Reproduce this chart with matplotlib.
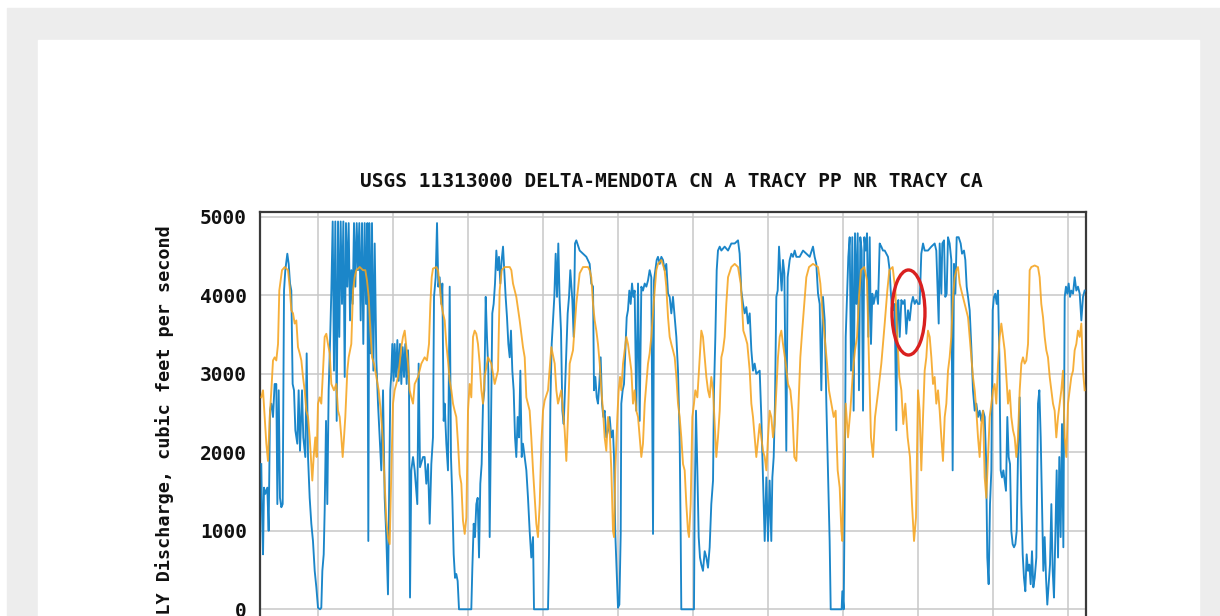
# Purpose: redraw the USGS 11313000 Delta-Mendota Canal daily discharge graph.
import matplotlib
matplotlib.use("Agg")
import matplotlib.pyplot as plt
from matplotlib.patches import Rectangle, Ellipse

# 1. Data: (decimal year, cubic feet per second)
blue_points = [
    (2011.244, 1850), (2011.253, 1255), (2011.267, 700), (2011.280, 1550), (2011.298, 1470),
    (2011.324, 1550), (2011.342, 1000), (2011.360, 2530), (2011.378, 2620), (2011.400, 2450),
    (2011.422, 2870), (2011.444, 2870), (2011.458, 1340), (2011.476, 2790), (2011.493, 1420),
    (2011.511, 1300), (2011.529, 1340), (2011.547, 4060), (2011.564, 4320), (2011.591, 4530),
    (2011.609, 4400), (2011.627, 4150), (2011.644, 4060), (2011.662, 2870), (2011.680, 2790),
    (2011.698, 2280), (2011.724, 2110), (2011.742, 2790), (2011.760, 2020), (2011.787, 2790),
    (2011.804, 2190), (2011.831, 1940), (2011.849, 3260), (2011.867, 1940), (2011.889, 1420),
    (2011.911, 1090), (2011.933, 870), (2011.956, 490), (2011.978, 280), (2012.000, 20),
    (2012.027, 0), (2012.044, 20), (2012.058, 490), (2012.076, 700), (2012.089, 1260),
    (2012.107, 2400), (2012.124, 1340), (2012.142, 2790), (2012.160, 3380), (2012.178, 4060),
    (2012.196, 4940), (2012.213, 3040), (2012.231, 4940), (2012.249, 2400), (2012.267, 4940),
    (2012.284, 3470), (2012.302, 4940), (2012.320, 3890), (2012.338, 4940), (2012.356, 2960),
    (2012.373, 4920), (2012.391, 4110), (2012.409, 4920), (2012.427, 3680), (2012.444, 4320),
    (2012.462, 3890), (2012.480, 4920), (2012.498, 4110), (2012.516, 4920), (2012.533, 4320),
    (2012.551, 4920), (2012.569, 3680), (2012.587, 4920), (2012.604, 3380), (2012.622, 4920),
    (2012.640, 3890), (2012.658, 4920), (2012.671, 870), (2012.684, 4920), (2012.702, 3260),
    (2012.720, 4920), (2012.738, 3040), (2012.756, 4660), (2012.778, 3170), (2012.800, 2620),
    (2012.822, 2190), (2012.844, 1770), (2012.867, 2790), (2012.889, 1420), (2012.911, 920),
    (2012.933, 190), (2012.947, 1340), (2012.964, 2790), (2012.978, 3000), (2012.991, 3380),
    (2013.009, 2910), (2013.022, 3380), (2013.040, 2960), (2013.058, 3430), (2013.076, 2910),
    (2013.093, 3380), (2013.111, 2870), (2013.129, 3340), (2013.147, 2960), (2013.164, 3380),
    (2013.182, 2870), (2013.200, 3300), (2013.213, 2910), (2013.227, 150), (2013.244, 1770),
    (2013.267, 1940), (2013.289, 1770), (2013.324, 1340), (2013.342, 3130), (2013.360, 1810),
    (2013.400, 1940), (2013.422, 1940), (2013.444, 1600), (2013.467, 1850), (2013.489, 1090),
    (2013.511, 1850), (2013.533, 2190), (2013.547, 3980), (2013.569, 4230), (2013.587, 4920),
    (2013.604, 4110), (2013.622, 4230), (2013.644, 3890), (2013.658, 4150), (2013.676, 2400),
    (2013.689, 2620), (2013.711, 2110), (2013.733, 1770), (2013.756, 4110), (2013.773, 1940),
    (2013.791, 1420), (2013.809, 700), (2013.827, 400), (2013.844, 450), (2013.862, 360),
    (2013.880, 0), (2014.044, 0), (2014.058, 530), (2014.076, 1090), (2014.093, 920),
    (2014.111, 1340), (2014.129, 1420), (2014.147, 660), (2014.164, 1600), (2014.182, 1850),
    (2014.200, 2620), (2014.218, 2790), (2014.236, 3980), (2014.253, 3470), (2014.271, 3040),
    (2014.289, 920), (2014.307, 2450), (2014.324, 3770), (2014.342, 3890), (2014.360, 4150),
    (2014.378, 4570), (2014.396, 4320), (2014.413, 4490), (2014.431, 4150), (2014.449, 4450),
    (2014.467, 4620), (2014.484, 4320), (2014.502, 3980), (2014.520, 3720), (2014.538, 3380),
    (2014.556, 3210), (2014.573, 3550), (2014.591, 3040), (2014.609, 2790), (2014.627, 2190),
    (2014.644, 1940), (2014.662, 2450), (2014.680, 2190), (2014.698, 3040), (2014.716, 1940),
    (2014.733, 2110), (2014.756, 1940), (2014.778, 1770), (2014.800, 1420), (2014.822, 1000),
    (2014.844, 660), (2014.867, 920), (2014.880, 0), (2015.067, 0), (2015.080, 700),
    (2015.098, 2620), (2015.116, 3380), (2015.133, 3680), (2015.151, 3980), (2015.169, 4530),
    (2015.187, 3980), (2015.204, 4660), (2015.222, 3940), (2015.240, 3550), (2015.258, 2530),
    (2015.276, 2360), (2015.293, 2790), (2015.311, 3300), (2015.329, 3770), (2015.347, 3980),
    (2015.364, 4320), (2015.391, 3940), (2015.409, 3470), (2015.427, 4660), (2015.444, 4700),
    (2015.489, 4570), (2015.533, 4530), (2015.578, 4490), (2015.622, 4400), (2015.644, 4150),
    (2015.667, 4110), (2015.680, 2790), (2015.698, 2960), (2015.716, 2700), (2015.733, 2620),
    (2015.751, 2870), (2015.769, 3210), (2015.787, 2620), (2015.804, 2450), (2015.822, 2530),
    (2015.844, 2190), (2015.867, 2280), (2015.889, 2450), (2015.911, 2190), (2015.933, 2280),
    (2015.947, 1940), (2015.964, 960), (2015.982, 490), (2016.000, 20), (2016.018, 60),
    (2016.036, 960), (2016.044, 2620), (2016.062, 2790), (2016.080, 2870), (2016.098, 3300),
    (2016.116, 3720), (2016.133, 3810), (2016.151, 4060), (2016.169, 3890), (2016.187, 4150),
    (2016.204, 3980), (2016.222, 4060), (2016.244, 2530), (2016.267, 4150), (2016.289, 2400),
    (2016.311, 4110), (2016.333, 4060), (2016.356, 4150), (2016.378, 4110), (2016.400, 4190),
    (2016.422, 4320), (2016.444, 4230), (2016.467, 960), (2016.480, 4190), (2016.498, 4320),
    (2016.516, 4450), (2016.533, 4490), (2016.556, 4400), (2016.578, 4490), (2016.600, 4450),
    (2016.622, 4320), (2016.644, 4400), (2016.667, 4020), (2016.689, 3980), (2016.711, 3770),
    (2016.733, 3980), (2016.756, 3720), (2016.778, 3470), (2016.800, 3040), (2016.822, 2190),
    (2016.836, 920), (2016.844, 0), (2017.013, 0), (2017.022, 1340), (2017.040, 2530),
    (2017.058, 1770), (2017.076, 920), (2017.093, 660), (2017.111, 570), (2017.133, 490),
    (2017.156, 740), (2017.178, 660), (2017.200, 530), (2017.222, 790), (2017.244, 1340),
    (2017.267, 1640), (2017.280, 2790), (2017.298, 3470), (2017.316, 4320), (2017.333, 4570),
    (2017.356, 4620), (2017.378, 4570), (2017.422, 4620), (2017.467, 4570), (2017.511, 4660),
    (2017.556, 4660), (2017.600, 4700), (2017.622, 4530), (2017.644, 4060), (2017.667, 3890),
    (2017.689, 3770), (2017.711, 3850), (2017.733, 3640), (2017.756, 3770), (2017.778, 3300),
    (2017.800, 3040), (2017.822, 3130), (2017.844, 3000), (2017.889, 3040), (2017.911, 2450),
    (2017.933, 1680), (2017.956, 870), (2017.978, 1680), (2018.000, 870), (2018.022, 1640),
    (2018.044, 870), (2018.058, 1680), (2018.076, 1940), (2018.093, 2620), (2018.111, 3980),
    (2018.129, 4060), (2018.147, 4620), (2018.164, 4320), (2018.182, 4060), (2018.200, 4450),
    (2018.218, 4280), (2018.244, 2020), (2018.262, 4230), (2018.289, 4450), (2018.311, 4530),
    (2018.333, 4490), (2018.356, 4570), (2018.378, 4490), (2018.422, 4490), (2018.467, 4570),
    (2018.511, 4530), (2018.556, 4490), (2018.600, 4620), (2018.622, 4490), (2018.644, 4400),
    (2018.667, 4020), (2018.689, 3890), (2018.711, 2790), (2018.733, 3980), (2018.756, 3680),
    (2018.778, 2620), (2018.800, 1770), (2018.822, 870), (2018.836, 0), (2018.982, 0),
    (2018.991, 230), (2019.009, 0), (2019.022, 1340), (2019.036, 3470), (2019.053, 3980),
    (2019.071, 4490), (2019.089, 4740), (2019.107, 3040), (2019.124, 4740), (2019.142, 2530),
    (2019.160, 4790), (2019.178, 3890), (2019.196, 4790), (2019.213, 2790), (2019.231, 4740),
    (2019.249, 4570), (2019.267, 2530), (2019.284, 4740), (2019.302, 4570), (2019.320, 4790),
    (2019.338, 3470), (2019.356, 4740), (2019.373, 3380), (2019.391, 4020), (2019.409, 3890),
    (2019.427, 3980), (2019.444, 4060), (2019.467, 3890), (2019.489, 4660), (2019.511, 4620),
    (2019.533, 4570), (2019.556, 4570), (2019.578, 4530), (2019.600, 4490), (2019.622, 4320),
    (2019.636, 4060), (2019.649, 3890), (2019.667, 3810), (2019.689, 3890), (2019.711, 2280),
    (2019.724, 3890), (2019.738, 3940), (2019.756, 3470), (2019.778, 3940), (2019.800, 3890),
    (2019.822, 3940), (2019.844, 3510), (2019.867, 3810), (2019.889, 3680), (2019.911, 3890),
    (2019.933, 3980), (2019.956, 3890), (2019.978, 3940), (2020.000, 3890), (2020.022, 3890),
    (2020.044, 4530), (2020.067, 4660), (2020.089, 4570), (2020.133, 4570), (2020.178, 4620),
    (2020.222, 4660), (2020.244, 4570), (2020.267, 3890), (2020.276, 3640), (2020.289, 4660),
    (2020.311, 4020), (2020.324, 4660), (2020.347, 4700), (2020.364, 3980), (2020.382, 4020),
    (2020.400, 4740), (2020.422, 4660), (2020.444, 4450), (2020.462, 1770), (2020.480, 4400),
    (2020.498, 4020), (2020.516, 4740), (2020.542, 4740), (2020.569, 4660), (2020.587, 4530),
    (2020.613, 4570), (2020.631, 4450), (2020.649, 4110), (2020.667, 3980), (2020.689, 3810),
    (2020.711, 3340), (2020.733, 2790), (2020.756, 2530), (2020.778, 2620), (2020.800, 2450),
    (2020.822, 2530), (2020.844, 2400), (2020.867, 2530), (2020.889, 2450), (2020.907, 1940),
    (2020.924, 660), (2020.942, 320), (2020.960, 1340), (2020.978, 1770), (2020.996, 3810),
    (2021.013, 3980), (2021.031, 4020), (2021.049, 3890), (2021.067, 4060), (2021.084, 3260),
    (2021.102, 1770), (2021.120, 1680), (2021.138, 1770), (2021.156, 1640), (2021.173, 1510),
    (2021.191, 2450), (2021.209, 1940), (2021.227, 1850), (2021.244, 1000), (2021.262, 830),
    (2021.280, 790), (2021.298, 830), (2021.316, 1000), (2021.333, 1940), (2021.356, 2700),
    (2021.378, 1340), (2021.396, 700), (2021.413, 400), (2021.431, 230), (2021.449, 700),
    (2021.467, 490), (2021.484, 570), (2021.502, 320), (2021.520, 740), (2021.538, 280),
    (2021.556, 400), (2021.578, 660), (2021.600, 2620), (2021.618, 2790), (2021.636, 2190),
    (2021.653, 1340), (2021.671, 490), (2021.689, 920), (2021.707, 400), (2021.724, 60),
    (2021.742, 320), (2021.760, 570), (2021.778, 1340), (2021.796, 490), (2021.813, 150),
    (2021.831, 920), (2021.849, 1770), (2021.867, 660), (2021.884, 1940), (2021.902, 920),
    (2021.920, 2360), (2021.938, 790), (2021.956, 3980), (2021.973, 4110), (2021.991, 4020),
    (2022.009, 4150), (2022.027, 3980), (2022.044, 4060), (2022.067, 4020), (2022.089, 4230),
    (2022.111, 4060), (2022.133, 4110), (2022.156, 4020), (2022.178, 3680), (2022.200, 3980),
    (2022.222, 4060),
]

orange_points = [
    (2011.244, 2700), (2011.267, 2790), (2011.289, 2450), (2011.311, 2110), (2011.333, 1890),
    (2011.356, 2450), (2011.378, 2790), (2011.400, 3170), (2011.422, 3210), (2011.444, 3170),
    (2011.467, 3380), (2011.484, 4060), (2011.502, 4190), (2011.520, 4320), (2011.556, 4360),
    (2011.600, 4320), (2011.622, 4110), (2011.644, 3810), (2011.667, 3770), (2011.689, 3640),
    (2011.711, 3680), (2011.733, 3340), (2011.756, 3260), (2011.778, 3170), (2011.800, 2960),
    (2011.822, 2790), (2011.844, 2530), (2011.867, 2450), (2011.889, 2190), (2011.911, 1850),
    (2011.924, 1640), (2011.942, 1940), (2011.964, 2190), (2011.982, 1940), (2012.000, 2620),
    (2012.022, 2700), (2012.044, 2620), (2012.067, 3040), (2012.089, 3470), (2012.111, 3510),
    (2012.133, 3380), (2012.156, 3260), (2012.178, 2870), (2012.213, 2790), (2012.244, 2870),
    (2012.267, 2530), (2012.289, 2450), (2012.311, 2190), (2012.329, 1940), (2012.347, 2190),
    (2012.364, 2450), (2012.391, 3040), (2012.409, 3210), (2012.427, 3300), (2012.444, 3380),
    (2012.467, 4060), (2012.489, 4230), (2012.511, 4320), (2012.556, 4360), (2012.600, 4320),
    (2012.631, 4320), (2012.653, 4190), (2012.676, 3980), (2012.698, 3550), (2012.720, 3210),
    (2012.747, 3130), (2012.778, 2960), (2012.809, 2790), (2012.836, 2530), (2012.862, 2190),
    (2012.889, 1600), (2012.911, 1130), (2012.933, 920), (2012.956, 830), (2012.978, 1770),
    (2013.000, 2620), (2013.022, 2790), (2013.044, 2870), (2013.067, 2960), (2013.089, 3130),
    (2013.111, 3340), (2013.133, 3470), (2013.156, 3550), (2013.178, 3340), (2013.200, 3130),
    (2013.222, 2790), (2013.244, 2700), (2013.267, 2620), (2013.289, 2870), (2013.333, 2960),
    (2013.378, 3130), (2013.400, 3170), (2013.422, 3210), (2013.453, 3170), (2013.480, 3380),
    (2013.498, 3890), (2013.516, 4230), (2013.533, 4340), (2013.578, 4360), (2013.600, 4320),
    (2013.622, 4150), (2013.644, 3890), (2013.667, 3770), (2013.689, 3680), (2013.711, 3380),
    (2013.733, 3170), (2013.756, 2910), (2013.778, 2790), (2013.800, 2620), (2013.822, 2530),
    (2013.844, 2450), (2013.867, 2110), (2013.889, 1720), (2013.911, 1600), (2013.933, 1130),
    (2013.956, 960), (2013.978, 1170), (2014.000, 2530), (2014.022, 2870), (2014.044, 2700),
    (2014.067, 3470), (2014.089, 3550), (2014.111, 3510), (2014.133, 3380), (2014.156, 3130),
    (2014.178, 2790), (2014.200, 2620), (2014.222, 2960), (2014.267, 3210), (2014.311, 3130),
    (2014.356, 2870), (2014.400, 3040), (2014.422, 4060), (2014.449, 4320), (2014.489, 4360),
    (2014.556, 4360), (2014.578, 4320), (2014.600, 4150), (2014.644, 3980), (2014.689, 3680),
    (2014.733, 3340), (2014.756, 3210), (2014.778, 2700), (2014.822, 2530), (2014.844, 2190),
    (2014.867, 1770), (2014.889, 1420), (2014.911, 1090), (2014.933, 920), (2014.956, 1340),
    (2014.978, 2110), (2015.000, 2530), (2015.022, 2660), (2015.067, 2790), (2015.111, 3340),
    (2015.156, 3130), (2015.178, 2790), (2015.200, 2620), (2015.244, 2790), (2015.267, 2530),
    (2015.289, 2280), (2015.311, 1890), (2015.333, 2450), (2015.356, 3130), (2015.400, 3300),
    (2015.444, 3890), (2015.489, 4280), (2015.533, 4360), (2015.600, 4360), (2015.622, 4320),
    (2015.644, 4230), (2015.667, 3890), (2015.689, 3680), (2015.711, 3550), (2015.733, 3380),
    (2015.756, 3130), (2015.778, 2790), (2015.800, 2530), (2015.822, 2190), (2015.844, 2020),
    (2015.867, 2450), (2015.889, 2280), (2015.911, 1770), (2015.933, 1000), (2015.947, 920),
    (2015.964, 1770), (2015.991, 2450), (2016.009, 2790), (2016.027, 2960), (2016.044, 2790),
    (2016.067, 3130), (2016.089, 3300), (2016.111, 3470), (2016.133, 3380), (2016.156, 3210),
    (2016.178, 3040), (2016.200, 2620), (2016.222, 2790), (2016.244, 2530), (2016.267, 2450),
    (2016.289, 2190), (2016.311, 1940), (2016.333, 2110), (2016.356, 2620), (2016.378, 2870),
    (2016.400, 3130), (2016.422, 3260), (2016.444, 3470), (2016.467, 3770), (2016.489, 4060),
    (2016.511, 4320), (2016.533, 4400), (2016.578, 4450), (2016.622, 4320), (2016.644, 4110),
    (2016.667, 3720), (2016.689, 3470), (2016.711, 3380), (2016.733, 3300), (2016.756, 3210),
    (2016.778, 2960), (2016.800, 2620), (2016.822, 2450), (2016.844, 2190), (2016.867, 1850),
    (2016.889, 1770), (2016.911, 1340), (2016.933, 1000), (2016.947, 920), (2016.969, 1340),
    (2016.991, 2450), (2017.013, 2620), (2017.031, 2790), (2017.058, 2700), (2017.089, 3210),
    (2017.111, 3550), (2017.133, 3470), (2017.156, 3210), (2017.178, 2960), (2017.200, 2790),
    (2017.222, 2700), (2017.244, 2960), (2017.267, 2790), (2017.289, 2360), (2017.311, 1940),
    (2017.333, 2190), (2017.356, 2530), (2017.378, 3210), (2017.400, 3300), (2017.422, 3470),
    (2017.444, 3890), (2017.467, 4230), (2017.511, 4360), (2017.556, 4400), (2017.600, 4360),
    (2017.636, 4150), (2017.653, 3890), (2017.671, 3550), (2017.698, 3470), (2017.724, 3380),
    (2017.756, 3040), (2017.778, 2620), (2017.800, 2450), (2017.822, 2190), (2017.844, 1940),
    (2017.889, 2360), (2017.911, 2190), (2017.933, 2020), (2017.956, 1940), (2017.978, 1770),
    (2018.000, 2190), (2018.022, 2530), (2018.044, 2450), (2018.067, 2190), (2018.089, 2360),
    (2018.111, 2790), (2018.133, 3210), (2018.156, 3470), (2018.178, 3550), (2018.200, 3380),
    (2018.236, 3130), (2018.267, 2870), (2018.298, 2790), (2018.324, 2530), (2018.351, 1940),
    (2018.378, 1890), (2018.404, 2530), (2018.431, 3210), (2018.456, 3550), (2018.484, 3890),
    (2018.511, 4230), (2018.547, 4360), (2018.600, 4400), (2018.667, 4360), (2018.698, 4150),
    (2018.724, 3810), (2018.756, 3470), (2018.787, 3130), (2018.813, 2790), (2018.844, 2620),
    (2018.876, 2450), (2018.902, 2530), (2018.929, 1770), (2018.956, 1550), (2018.978, 1000),
    (2018.991, 870), (2019.009, 1770), (2019.036, 2620), (2019.067, 2190), (2019.098, 2530),
    (2019.133, 3040), (2019.160, 3300), (2019.187, 3470), (2019.213, 3980), (2019.240, 4320),
    (2019.284, 4360), (2019.320, 4190), (2019.347, 3130), (2019.373, 2190), (2019.400, 1940),
    (2019.427, 2450), (2019.471, 2790), (2019.511, 3130), (2019.556, 3640), (2019.591, 4060),
    (2019.618, 4320), (2019.662, 4360), (2019.698, 4060), (2019.724, 3470), (2019.751, 2960),
    (2019.778, 2790), (2019.804, 2360), (2019.831, 2620), (2019.862, 2190), (2019.893, 1940),
    (2019.920, 1340), (2019.947, 870), (2019.973, 1170), (2020.000, 2790), (2020.022, 2530),
    (2020.044, 1770), (2020.067, 2450), (2020.089, 3040), (2020.111, 3210), (2020.133, 3550),
    (2020.156, 3470), (2020.178, 3210), (2020.200, 2870), (2020.222, 2960), (2020.244, 2620),
    (2020.267, 2790), (2020.289, 2530), (2020.311, 2190), (2020.333, 1890), (2020.356, 2450),
    (2020.378, 2620), (2020.400, 3040), (2020.422, 3210), (2020.444, 3470), (2020.467, 3980),
    (2020.489, 4230), (2020.511, 4320), (2020.533, 4360), (2020.556, 4150), (2020.578, 4060),
    (2020.622, 3890), (2020.644, 3810), (2020.667, 3720), (2020.689, 3470), (2020.711, 3210),
    (2020.733, 2960), (2020.756, 2790), (2020.778, 2530), (2020.800, 2190), (2020.822, 1940),
    (2020.844, 2360), (2020.867, 2530), (2020.889, 1680), (2020.911, 1420), (2020.933, 1940),
    (2020.956, 2450), (2020.978, 2620), (2021.000, 2790), (2021.022, 2870), (2021.044, 2620),
    (2021.067, 3130), (2021.089, 3470), (2021.111, 3640), (2021.133, 3470), (2021.156, 3300),
    (2021.178, 2960), (2021.200, 2620), (2021.222, 2790), (2021.244, 2450), (2021.267, 2280),
    (2021.289, 2190), (2021.311, 1940), (2021.333, 2190), (2021.356, 2790), (2021.378, 3130),
    (2021.400, 3210), (2021.422, 3130), (2021.444, 3170), (2021.467, 3380), (2021.489, 4320),
    (2021.511, 4360), (2021.556, 4380), (2021.600, 4360), (2021.622, 4230), (2021.644, 3890),
    (2021.667, 3720), (2021.689, 3470), (2021.711, 3300), (2021.733, 3210), (2021.756, 2960),
    (2021.778, 2790), (2021.800, 2620), (2021.822, 2530), (2021.844, 2190), (2021.867, 2450),
    (2021.889, 2620), (2021.911, 2790), (2021.933, 3040), (2021.956, 2190), (2021.978, 1940),
    (2022.000, 2620), (2022.022, 2790), (2022.044, 2960), (2022.067, 3040), (2022.089, 3300),
    (2022.111, 3380), (2022.133, 3550), (2022.156, 3470), (2022.178, 3640), (2022.200, 3040),
    (2022.222, 2790),
]

year_ticks = list(range(2012, 2023))
cfs_ticks = [0, 1000, 2000, 3000, 4000, 5000]
title = "USGS 11313000 DELTA-MENDOTA CN A TRACY PP NR TRACY CA"
y_label = "DAILY Discharge, cubic feet per second"

# red ring drawn over the graph (centre year, centre cfs, width in years, height in cfs)
ring = (2019.873, 3781, 0.44, 1083)

blue_dates, blue_cfs = zip(*blue_points)
orange_dates, orange_cfs = zip(*orange_points)

# 2. Page: white strip, grey frame, white card
W, H = 1220, 616
fig = plt.figure(figsize=(W / 100, H / 100), dpi=100, facecolor="white")

def px_box(x0, y0, x1, y1):
    # pixel box (top-left origin) -> figure fraction rectangle
    return (x0 / W, 1 - y1 / H), (x1 - x0) / W, (y1 - y0) / H

xy, w, h = px_box(7, 8, W, H + 2)
fig.add_artist(Rectangle(xy, w, h, transform=fig.transFigure, color="#ededed", zorder=-10))
xy, w, h = px_box(38, 40, 1199, H + 2)
fig.add_artist(Rectangle(xy, w, h, transform=fig.transFigure, color="white", zorder=-9))

# 3. Axes: the bottom runs off the picture, as in the cropped screenshot
ax_left, ax_right, ax_top, ax_bottom = 260, 1085.5, 212, 700
ax = fig.add_axes([ax_left / W, 1 - ax_bottom / H, (ax_right - ax_left) / W, (ax_bottom - ax_top) / H])
ax.set_facecolor("white")

px_per_year = 75.0
px_per_cfs = 78.5 / 1000
zero_px, grid_2012_px = 609.3, 318
ax.set_xlim(2012 + (ax_left - grid_2012_px) / px_per_year, 2012 + (ax_right - grid_2012_px) / px_per_year)
ax.set_ylim((zero_px - ax_bottom) / px_per_cfs, (zero_px - ax_top) / px_per_cfs)

ax.plot(blue_dates, blue_cfs, color="#1b86c9", lw=1.35, zorder=3)
ax.plot(orange_dates, orange_cfs, color="#f5a41f", lw=1.35, alpha=0.88, zorder=4)

ax.add_patch(Ellipse(ring[:2], ring[2], ring[3], fill=False, ec="#d9201f", lw=2.4, zorder=6))

# 4. Grid, spines, labels
ax.set_xticks(year_ticks)
ax.set_yticks(cfs_ticks)
ax.grid(True, color="#c8c8c8", lw=1.1)
ax.set_axisbelow(True)
ax.tick_params(length=0, pad=9.5)
ax.tick_params(axis="x", labelbottom=False)
for lbl in ax.get_yticklabels():
    lbl.set_fontfamily("DejaVu Sans Mono")
    lbl.set_fontweight("bold")
    lbl.set_fontsize(14)
    lbl.set_color("#111111")
for side in ("left", "top", "right"):
    ax.spines[side].set_color("#3a3a3a")
    ax.spines[side].set_linewidth(1.6)
ax.spines["bottom"].set_visible(False)

fig.text(671 / W, 1 - 181.5 / H, title, ha="center", va="center",
         family="DejaVu Sans Mono", weight="bold", size=14, color="#111111")
fig.text(165 / W, 1 - 225 / H, y_label, rotation=90, ha="center", va="top",
         family="DejaVu Sans Mono", weight="bold", size=13.3, color="#111111")

fig.savefig("out.png", dpi=100)
